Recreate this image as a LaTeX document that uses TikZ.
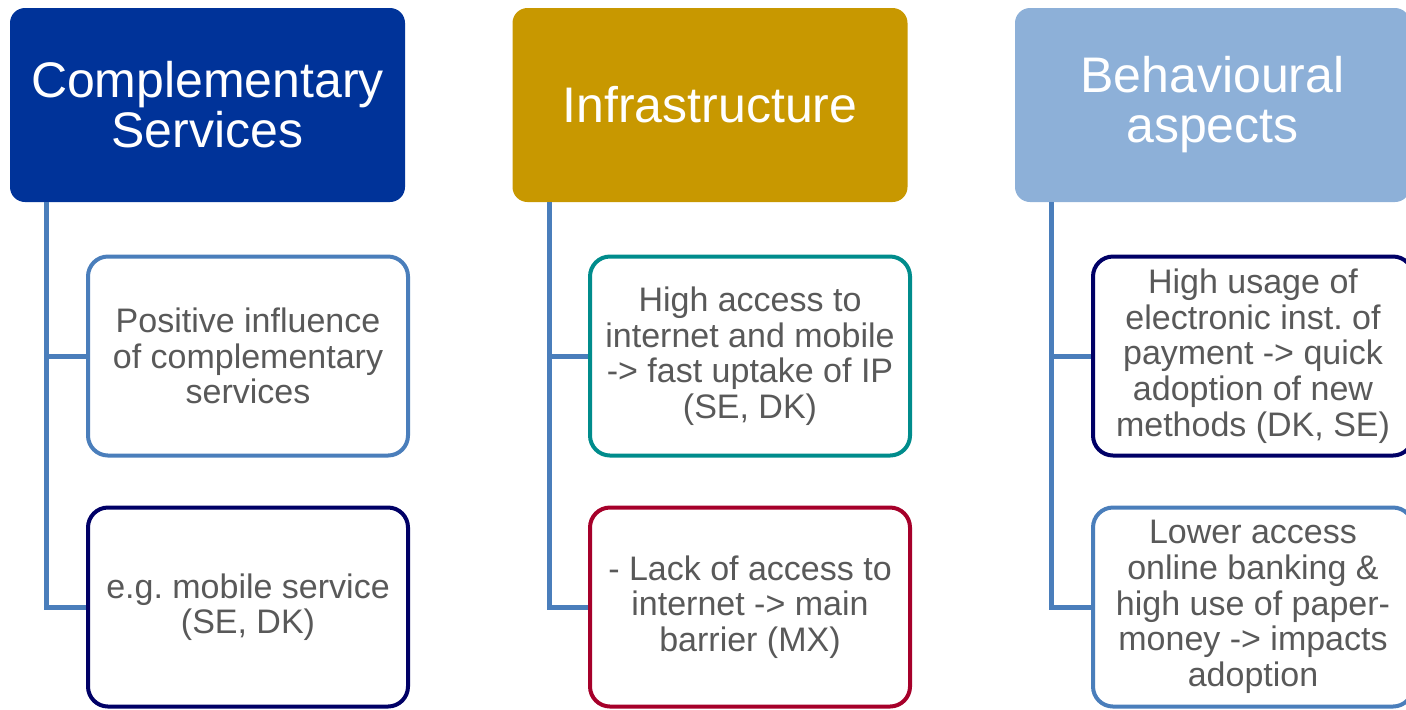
\documentclass[tikz,border=0pt]{standalone}
\usepackage{fontspec}
\setmainfont{Liberation Sans}
\usetikzlibrary{calc}
\frenchspacing
\definecolor{hdrblue}{HTML}{003399}
\definecolor{hdrgold}{HTML}{C89800}
\definecolor{hdrlight}{HTML}{8DB0D8}
\definecolor{linkblue}{HTML}{4A7EBB}
\definecolor{navy}{HTML}{000066}
\definecolor{tealline}{HTML}{008C8C}
\definecolor{crimson}{HTML}{A6002A}
\definecolor{txtgray}{HTML}{595959}
\begin{document}
\begin{tikzpicture}[x=0.5pt, y=-0.5pt,
    head/.style={rounded corners=7.5pt, minimum width=197.5pt, minimum height=97pt, inner sep=0pt, text=white, align=center, font=\fontsize{25}{25}\selectfont},
    item/.style={draw, line width=2pt, rounded corners=10pt, fill=white, minimum width=160pt, minimum height=99.5pt, inner sep=0pt, text=txtgray, align=center, font=\fontsize{17}{17.8}\selectfont},
    branch/.style={draw=linkblue, line width=2.5pt}]
    \clip (0,0) rectangle (1406,709);
    % first column
    \node[head, fill=hdrblue] (comp) at (207.5,105) {Complementary\\Services};
    \node[item, draw=linkblue] (comp1) at (248,356) {Positive influence\\of complementary\\services};
    \node[item, draw=navy] (comp2) at (248,607) {e.g. mobile service\\(SE, DK)};
    % second column
    \node[head, fill=hdrgold] (infra) at (710,105) {Infrastructure};
    \node[item, draw=tealline] (infra1) at (750,356) {High access to\\internet and mobile\\-> fast uptake of IP\\(SE, DK)};
    \node[item, draw=crimson] (infra2) at (750,607) {- Lack of access to\\internet -> main\\barrier (MX)};
    % third column
    \node[head, fill=hdrlight] (behav) at (1212.5,105) {Behavioural\\aspects};
    \node[item, draw=navy] (behav1) at (1253,356) {High usage of\\electronic inst. of\\payment -> quick\\adoption of new\\methods (DK, SE)};
    \node[item, draw=linkblue] (behav2) at (1253,607) {Lower access\\online banking \&\\high use of paper-\\money -> impacts\\adoption};
    % branches
    \foreach \h/\a/\b in {comp/comp1/comp2, infra/infra1/infra2, behav/behav1/behav2}
        \draw[branch] ($(\h.south west)+(37,0)$) |- (\a.west)
                      ($(\h.south west)+(37,0)$) |- (\b.west);
\end{tikzpicture}
\end{document}
